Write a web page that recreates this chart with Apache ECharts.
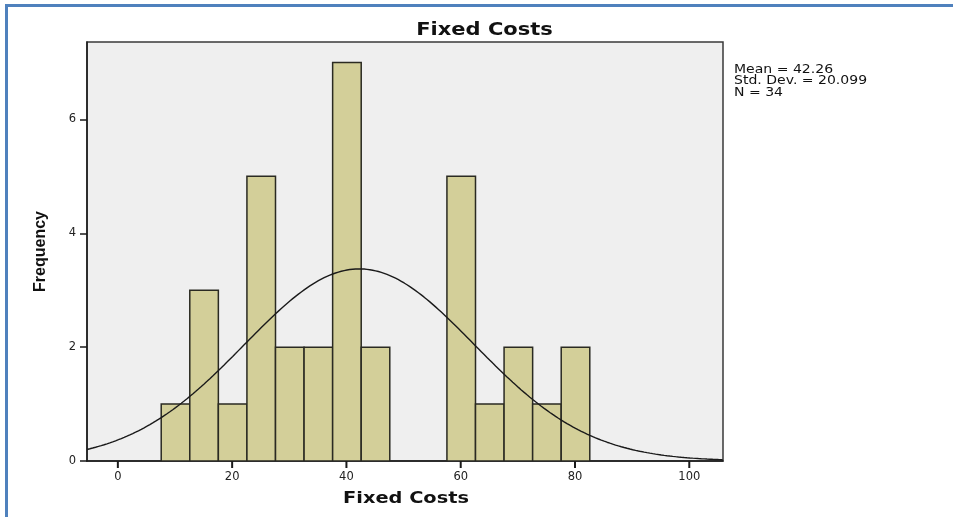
<!DOCTYPE html>
<html>
<head>
<meta charset="utf-8">
<script src="https://cdn.jsdelivr.net/npm/echarts@6/dist/echarts.min.js"></script>
<style>
  html, body { margin: 0; padding: 0; background: #fff; }
  #frame { position: absolute; left: 5px; top: 4px; width: 960px; height: 520px;
           border-left: 3px solid #4f81bd; border-top: 3px solid #4f81bd; }
  #chart { position: absolute; left: 0; top: 0; width: 953px; height: 517px; }
</style>
</head>
<body>
<div id="frame"></div>
<div id="chart"></div>
<script>
// Histogram bins: lower edges (bin width 5) and frequencies
const binLower = [7.5, 12.5, 17.5, 22.5, 27.5, 32.5, 37.5, 42.5, 47.5, 52.5, 57.5, 62.5, 67.5, 72.5, 77.5];
const binCounts = [1, 3, 1, 5, 2, 2, 7, 2, 0, 0, 5, 1, 2, 1, 2];
const binWidth = 5;

// Summary statistics shown beside the plot
const statMean = 42.26;
const statSD = 20.099;
const statN = 34;

const xTicks = [0, 20, 40, 60, 80, 100];
const xMin = -5.4, xMax = 105.9;
const yMax = 7.36;

// Fitted normal curve scaled to counts per bin
const curve = [];
for (let x = xMin; x <= xMax + 0.01; x += 0.25) {
  const z = (x - statMean) / statSD;
  const y = statN * binWidth / (statSD * Math.sqrt(2 * Math.PI)) * Math.exp(-0.5 * z * z);
  curve.push([x, y]);
}

const bars = binLower.map((lo, i) => [lo, lo + binWidth, binCounts[i]]).filter(d => d[2] > 0);

const chart = echarts.init(document.getElementById('chart'), null, { renderer: 'canvas' });
const axisText = { color: '#222', fontFamily: 'DejaVu Sans, sans-serif', fontSize: 11.5 };
const boldFont = '"DejaVu Sans", sans-serif';

chart.setOption({
  animation: false,
  grid: [
    {
      left: 87, top: 42, width: 636, height: 419,
      show: true, backgroundColor: '#efefef', borderColor: '#3a3a3a', borderWidth: 1.5
    },
    // thin strip under the plot that carries the x tick marks
    { left: 87, top: 461, width: 636, height: 7 }
  ],
  xAxis: [
    {
      type: 'value', min: xMin, max: xMax, gridIndex: 0,
      axisLine: { show: true, onZero: false, lineStyle: { color: '#1a1a1a', width: 1.5 } },
      axisTick: { show: false },
      axisLabel: Object.assign({ margin: 10, customValues: xTicks }, axisText),
      splitLine: { show: false }
    },
    {
      type: 'value', min: xMin, max: xMax, gridIndex: 1,
      axisLine: { show: false }, axisTick: { show: false }, axisLabel: { show: false }, splitLine: { show: false }
    }
  ],
  yAxis: [
    {
      type: 'value', min: 0, max: yMax, interval: 2, gridIndex: 0,
      name: 'Frequency', nameLocation: 'middle', nameGap: 38, nameRotate: 90,
      nameTextStyle: { fontFamily: 'Liberation Sans Narrow, Arial Narrow, sans-serif', fontWeight: 'bold', fontSize: 16, color: '#111' },
      axisLine: { show: true, onZero: false, lineStyle: { color: '#1a1a1a', width: 1.5 } },
      axisTick: { show: true, inside: false, length: 7, lineStyle: { color: '#1a1a1a', width: 1.5 } },
      axisLabel: Object.assign({ margin: 11, showMaxLabel: false }, axisText),
      splitLine: { show: false }
    },
    {
      type: 'value', min: 0, max: 1, gridIndex: 1,
      axisLine: { show: false }, axisTick: { show: false }, axisLabel: { show: false }, splitLine: { show: false }
    }
  ],
  graphic: [
    {
      type: 'text', x: 484.5, y: 30, scaleX: 1.2,
      style: { text: 'Fixed Costs', font: 'bold 17.5px ' + boldFont, fill: '#111', align: 'center', verticalAlign: 'middle' }
    },
    {
      type: 'text', x: 406, y: 499, scaleX: 1.21,
      style: { text: 'Fixed Costs', font: 'bold 16px ' + boldFont, fill: '#111', align: 'center', verticalAlign: 'middle' }
    },
    {
      type: 'text', x: 734, y: 64, scaleX: 1.22,
      style: {
        text: 'Mean = ' + statMean.toFixed(2) + '\nStd. Dev. = ' + statSD.toFixed(3) + '\nN = ' + statN,
        font: '11.5px "DejaVu Sans", sans-serif', fill: '#111', lineHeight: 11.5,
        align: 'left', verticalAlign: 'top'
      }
    }
  ],
  series: [
    {
      type: 'custom',
      data: bars,
      clip: true,
      renderItem: function (params, api) {
        const p0 = api.coord([api.value(0), api.value(2)]);
        const p1 = api.coord([api.value(1), 0]);
        return {
          type: 'rect',
          shape: { x: p0[0] + 0.5, y: p0[1], width: p1[0] - p0[0], height: p1[1] - p0[1] },
          style: { fill: '#d3cf99', stroke: '#2a2a22', lineWidth: 1.5 }
        };
      },
      encode: { x: [0, 1], y: 2 },
      z: 2
    },
    {
      type: 'line',
      data: curve,
      showSymbol: false,
      smooth: false,
      clip: true,
      lineStyle: { color: '#1a1a1a', width: 1.4 },
      z: 3
    },
    {
      // x tick marks
      type: 'bar',
      xAxisIndex: 1, yAxisIndex: 1,
      data: xTicks.map(v => [v, 1]),
      barWidth: 2,
      silent: true,
      itemStyle: { color: '#1a1a1a' }
    }
  ]
});
</script>
</body>
</html>
